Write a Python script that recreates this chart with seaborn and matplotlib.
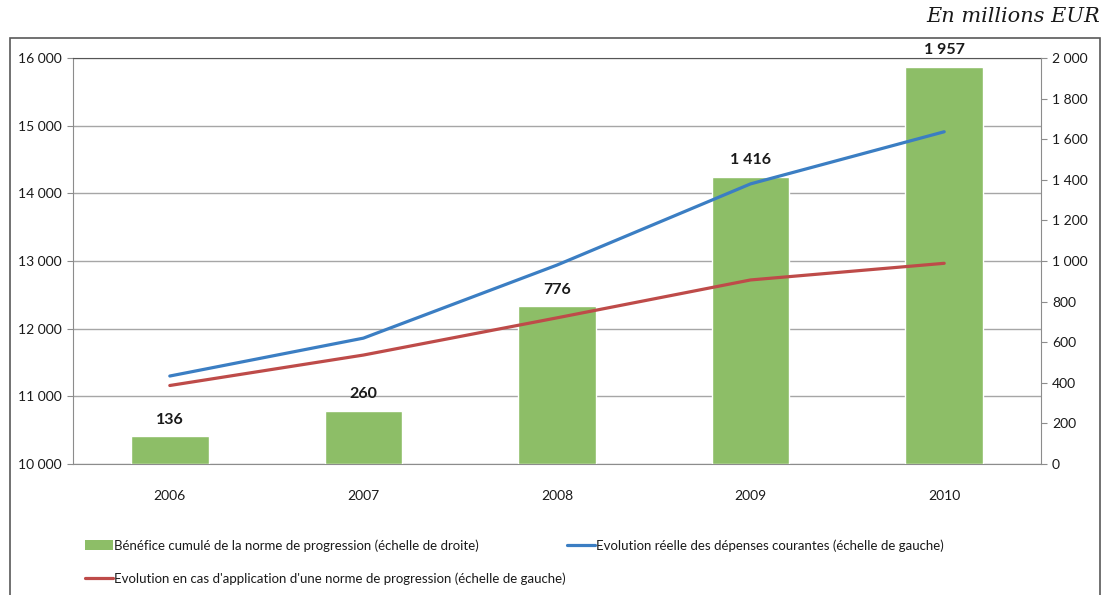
import numpy as np
import matplotlib
matplotlib.use("Agg")
import matplotlib.pyplot as plt
import seaborn as sns
from matplotlib.ticker import FuncFormatter, MultipleLocator
from matplotlib.patches import Rectangle, Patch
from matplotlib.lines import Line2D

# ---- data ----
years = ["2006", "2007", "2008", "2009", "2010"]
benefice = [136, 260, 776, 1416, 1957]                 # right axis (bars)
depenses_reelles = [11300, 11860, 12940, 14140, 14910]  # left axis (blue line)
norme_progression = [11160, 11610, 12160, 12720, 12966]  # left axis (red line)
label_bar = "Bénéfice cumulé de la norme de progression (échelle de droite)"
label_blue = "Evolution réelle des dépenses courantes (échelle de gauche)"
label_red = "Evolution en cas d'application d'une norme de progression (échelle de gauche)"
unit_text = "En millions EUR"

GREEN = "#8DBE67"
BLUE = "#3B7EC3"
RED = "#BE4B49"
GRID = "#A6A6A6"
AXC = "#8C8C8C"

sns.set_style("white")
plt.rcParams['font.family'] = ['Lato', 'DejaVu Sans']
plt.rcParams['text.color'] = '#1a1a1a'
plt.rcParams['xtick.color'] = AXC
plt.rcParams['ytick.color'] = AXC
plt.rcParams['xtick.labelcolor'] = '#1a1a1a'
plt.rcParams['ytick.labelcolor'] = '#1a1a1a'

FS = 10


def fmt(v, pos=None):
    return f"{v:,.0f}".replace(",", " ")


W, H = 1110, 595
fig = plt.figure(figsize=(W / 100, H / 100), dpi=100)
rect = [73 / W, 1 - 464 / H, (1041 - 73) / W, (464 - 58) / H]
ax = fig.add_axes(rect)
ax2 = ax.twinx()
ax3 = fig.add_axes(rect, sharex=ax, sharey=ax)
ax3.patch.set_visible(False)
ax3.axis('off')

# bars (right scale)
sns.barplot(x=years, y=benefice, ax=ax2, color=GREEN, width=0.4, saturation=1)
ax2.set_ylim(0, 2000)
ax2.yaxis.set_major_locator(MultipleLocator(200))
ax2.yaxis.set_major_formatter(FuncFormatter(fmt))
ax2.bar_label(ax2.containers[0], labels=[fmt(v) for v in benefice], padding=7,
              fontweight='bold', fontsize=FS + 1.5)

# lines (left scale)
xpos = np.arange(len(years))
lw = 2.3
sns.lineplot(x=xpos, y=depenses_reelles, ax=ax3, color=BLUE, lw=lw)
sns.lineplot(x=xpos, y=norme_progression, ax=ax3, color=RED, lw=lw)

ax.set_ylim(10000, 16000)
ax.yaxis.set_major_locator(MultipleLocator(1000))
ax.yaxis.set_major_formatter(FuncFormatter(fmt))
ax.set_xlim(-0.5, len(years) - 0.5)
ax.set_xticks(np.arange(len(years) + 1) - 0.5, labels=[""] * (len(years) + 1))
ax.set_xticks(xpos, labels=years, minor=True)
ax.tick_params(axis='x', which='major', length=5, width=0.8, direction='out', color=AXC)
ax.tick_params(axis='x', which='minor', length=0, pad=19, labelsize=FS)
ax.tick_params(axis='y', length=4, width=0.8, direction='out', pad=4, labelsize=FS, left=True)
ax2.tick_params(axis='y', length=4, width=0.8, direction='out', pad=4, labelsize=FS, right=True)
ax.set_xlabel("")
ax.set_ylabel("")
ax2.set_ylabel("")
ax.yaxis.grid(True, color=GRID, lw=1)
ax.xaxis.grid(False)
ax2.grid(False)

for a in (ax, ax2):
    for s in a.spines.values():
        s.set_visible(False)
ax.spines['left'].set_visible(True)
ax.spines['left'].set_color(AXC)
ax.spines['bottom'].set_visible(True)
ax.spines['bottom'].set_color(AXC)
ax.spines['top'].set_visible(True)
ax.spines['top'].set_color('#555555')
ax2.spines['right'].set_visible(True)
ax2.spines['right'].set_color(AXC)

# legend
LFS = 9.5
handles = [Patch(facecolor=GREEN, edgecolor='none'),
           Line2D([], [], color=RED, lw=lw),
           Line2D([], [], color=BLUE, lw=lw)]
fig.legend(handles, [label_bar, label_red, label_blue], ncol=2, loc='upper left',
           bbox_to_anchor=(76 / W, 1 - 530 / H), frameon=False, fontsize=LFS,
           handlelength=2.1, handleheight=0.85, handletextpad=0.1,
           columnspacing=0.1, labelspacing=1.55, borderpad=0.2)

# unit text
fig.text(1100 / W, 1 - 17 / H, unit_text, ha='right', va='center',
         family='DejaVu Serif', style='italic', fontsize=15)

# outer chart frame
fig.add_artist(Rectangle((10 / W, -0.05), (1100 - 10) / W, 1 - 38 / H + 0.05,
                         transform=fig.transFigure, fill=False, ec='#595959', lw=1.2))

fig.savefig("out.png", dpi=100)
